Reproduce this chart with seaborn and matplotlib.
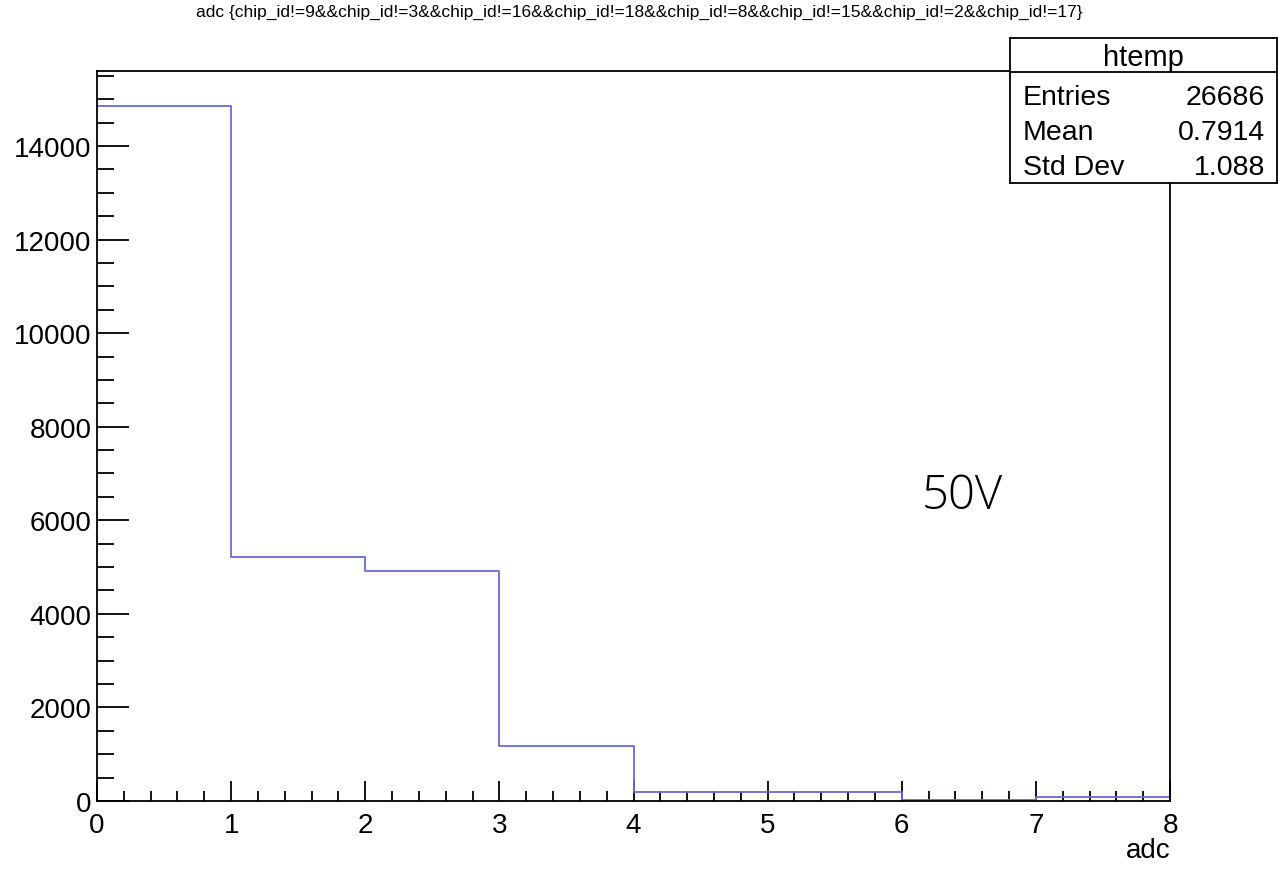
import numpy as np
import pandas as pd
import matplotlib
matplotlib.use("Agg")
import matplotlib.pyplot as plt
import seaborn as sns
from matplotlib.ticker import MultipleLocator

# histogram contents (adc bins 0..8)
bin_edges = [0, 1, 2, 3, 4, 5, 6, 7, 8]
bin_lows = [0, 1, 2, 3, 4, 5, 6, 7]
counts = [14860, 5220, 4920, 1185, 200, 198, 28, 75]

stat_names = ["Entries", "Mean", "Std Dev"]
stat_values = ["26686", "0.7914", "1.088"]

title = "adc {chip_id!=9&&chip_id!=3&&chip_id!=16&&chip_id!=18&&chip_id!=8&&chip_id!=15&&chip_id!=2&&chip_id!=17}"

sns.set_style("white")
plt.rcParams['font.family'] = ['Liberation Sans', 'DejaVu Sans']
plt.rcParams['text.color'] = 'black'
plt.rcParams['xtick.color'] = 'black'
plt.rcParams['ytick.color'] = 'black'

fig = plt.figure(figsize=(12.78, 8.70), dpi=100)
ax = fig.add_axes([0.0759, 0.0782, 0.8396, 0.8390])

df = pd.DataFrame({"adc": bin_lows, "n": counts})
sns.histplot(data=df, x="adc", weights="n", bins=bin_edges, element="step",
             fill=False, color="#6b6bd0", linewidth=1.3, ax=ax)

ax.set_xlim(0, 8)
ax.set_ylim(0, max(counts) * 1.05)
ax.xaxis.set_major_locator(MultipleLocator(1))
ax.xaxis.set_minor_locator(MultipleLocator(0.2))
ax.yaxis.set_major_locator(MultipleLocator(2000))
ax.yaxis.set_minor_locator(MultipleLocator(500))
ax.tick_params(which='both', bottom=True, left=True, top=False, right=False)
ax.tick_params(axis='x', which='major', direction='in', length=14.5, width=1.3,
               labelsize=20, pad=8)
ax.tick_params(axis='x', which='minor', direction='in', length=7.2, width=1.3)
ax.tick_params(axis='y', which='major', direction='in', length=23, width=1.3,
               labelsize=20, pad=4)
ax.tick_params(axis='y', which='minor', direction='in', length=12, width=1.3)
for s in ax.spines.values():
    s.set_color('black')
    s.set_linewidth(1.3)
ax.set_xlabel("")
ax.set_ylabel("")
fig.text(0.9155, 0.022, "adc", ha='right', va='center', fontsize=20)

fig.text(0.5, 0.986, title, ha='center', va='center', fontsize=12.5)

ax.text(6.15, 6000, "50V", fontsize=34, family=['Open Sans', 'DejaVu Sans'],
        fontweight='light', ha='left', va='bottom')

# stats box
box = fig.add_axes([0.7903, 0.7885, 0.2089, 0.1667])
box.set_xticks([])
box.set_yticks([])
box.set_xlim(0, 1)
box.set_ylim(0, 1)
box.patch.set_facecolor('white')
for s in box.spines.values():
    s.set_visible(True)
    s.set_color('black')
    s.set_linewidth(1.3)
box.axhline(0.7655, color='black', linewidth=1.3)
box.text(0.5, 0.87, "htemp", ha='center', va='center', fontsize=21)
rows_y = [0.593, 0.352, 0.11]
for name, val, yy in zip(stat_names, stat_values, rows_y):
    box.text(0.049, yy, name, ha='left', va='center', fontsize=20.5)
    box.text(0.955, yy, val, ha='right', va='center', fontsize=20.5)

fig.savefig("out.png", dpi=100)
